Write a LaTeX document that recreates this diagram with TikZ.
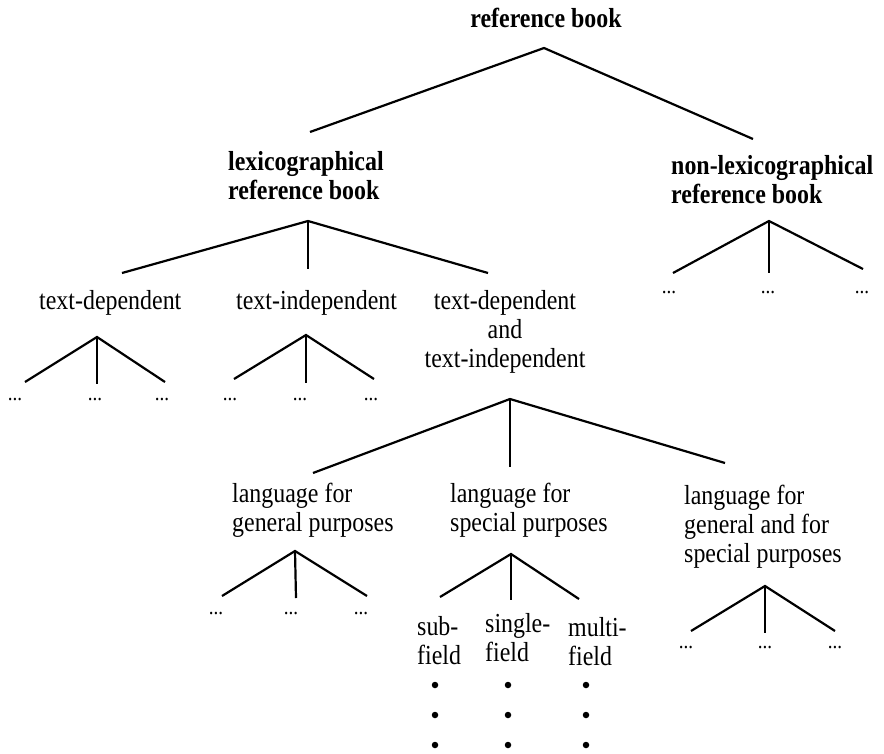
\documentclass[tikz,border=0pt]{standalone}
\usepackage{fontspec}
\setmainfont[FakeStretch=0.87]{Liberation Serif}
\usetikzlibrary{positioning}

\tikzset{
  branch/.style={line width=2.2pt},
  lbl/.style={inner sep=0pt, font=\fontsize{27.5}{29}\selectfont},
  head/.style={lbl, font=\fontsize{27.5}{29}\selectfont\bfseries},
  more/.style={inner sep=0pt, anchor=base, font=\fontsize{22}{24}\selectfont},
  fielddot/.style={circle, fill, inner sep=0pt, minimum size=6.5pt},
}

\begin{document}
\begin{tikzpicture}[x=1pt,y=-1pt]
    \useasboundingbox (0,0) rectangle (884,753);

    % Root
    \node[head, anchor=base] (root) at (546,27) {reference book};
    \coordinate (rootA) at (544,48);
    \coordinate (rootL) at (310,132);
    \coordinate (rootR) at (753,139);
    \draw[branch] (rootL) -- (rootA) -- (rootR);

    % Lexicographical reference book
    \node[head, align=left, anchor=north west] (lex) at (228,151) {lexicographical\\reference book};
    \coordinate (lexA) at (308,221);
    \coordinate (lexL) at (122,273);
    \coordinate (lexM) at (308,269);
    \coordinate (lexR) at (488,273);
    \draw[branch] (lexL) -- (lexA) -- (lexR);
    \draw[branch] (lexA) -- (lexM);

    % Non-lexicographical reference book
    \node[head, align=left, anchor=north west] (nonlex) at (671,155) {non-lexicographical\\reference book};
    \coordinate (nonA) at (769,221);
    \coordinate (nonL) at (673,273);
    \coordinate (nonM) at (769,273);
    \coordinate (nonR) at (863,269);
    \draw[branch] (nonL) -- (nonA) -- (nonR);
    \draw[branch] (nonA) -- (nonM);
    \node[more] (non1) at (669,293) {...};
    \node[more] (non2) at (768,293) {...};
    \node[more] (non3) at (862,293) {...};

    % Text-dependent
    \node[lbl, anchor=base west] (tdep) at (39,309) {text-dependent};
    \coordinate (tdepA) at (97,337);
    \coordinate (tdepL) at (25,382);
    \coordinate (tdepM) at (97,384);
    \coordinate (tdepR) at (165,382);
    \draw[branch] (tdepL) -- (tdepA) -- (tdepR);
    \draw[branch] (tdepA) -- (tdepM);
    \node[more] (tdep1) at (15,400) {...};
    \node[more] (tdep2) at (95,400) {...};
    \node[more] (tdep3) at (162,400) {...};

    % Text-independent
    \node[lbl, anchor=base west] (tind) at (236,309) {text-independent};
    \coordinate (tindA) at (306,335);
    \coordinate (tindL) at (234,379);
    \coordinate (tindM) at (306,383);
    \coordinate (tindR) at (374,379);
    \draw[branch] (tindL) -- (tindA) -- (tindR);
    \draw[branch] (tindA) -- (tindM);
    \node[more] (tind1) at (230,400) {...};
    \node[more] (tind2) at (300,400) {...};
    \node[more] (tind3) at (371,400) {...};

    % Text-dependent and text-independent
    \node[lbl, align=center, anchor=north] (both) at (505,290) {text-dependent\\and\\text-independent};
    \coordinate (bothA) at (510,399);
    \coordinate (bothL) at (313,473);
    \coordinate (bothM) at (510,467);
    \coordinate (bothR) at (725,463);
    \draw[branch] (bothL) -- (bothA) -- (bothR);
    \draw[branch] (bothA) -- (bothM);

    % LGP
    \node[lbl, align=left, anchor=north west] (lgp) at (232,483) {language for\\general purposes};
    \coordinate (lgpA) at (295,551);
    \coordinate (lgpL) at (222,596);
    \coordinate (lgpM) at (296,598);
    \coordinate (lgpR) at (367,596);
    \draw[branch] (lgpL) -- (lgpA) -- (lgpR);
    \draw[branch] (lgpA) -- (lgpM);
    \node[more] (lgp1) at (216,614) {...};
    \node[more] (lgp2) at (291,614) {...};
    \node[more] (lgp3) at (361,614) {...};

    % LSP
    \node[lbl, align=left, anchor=north west] (lsp) at (450,483) {language for\\special purposes};
    \coordinate (lspA) at (511,554);
    \coordinate (lspL) at (440,597);
    \coordinate (lspM) at (511,600);
    \coordinate (lspR) at (579,599);
    \draw[branch] (lspL) -- (lspA) -- (lspR);
    \draw[branch] (lspA) -- (lspM);
    \node[lbl, align=left, anchor=north west] (sub) at (417,616) {sub-\\field};
    \node[lbl, align=left, anchor=north west] (single) at (485,613) {single-\\field};
    \node[lbl, align=left, anchor=north west] (multi) at (568,617) {multi-\\field};
    \node[fielddot] (sub1) at (435,685) {};
    \node[fielddot] (sub2) at (435,715) {};
    \node[fielddot] (sub3) at (435,745) {};
    \node[fielddot] (single1) at (508,685) {};
    \node[fielddot] (single2) at (508,715) {};
    \node[fielddot] (single3) at (508,745) {};
    \node[fielddot] (multi1) at (586,685) {};
    \node[fielddot] (multi2) at (586,715) {};
    \node[fielddot] (multi3) at (586,745) {};

    % LGP and LSP
    \node[lbl, align=left, anchor=north west] (lgsp) at (684,485) {language for\\general and for\\special purposes};
    \coordinate (lgspA) at (765,586);
    \coordinate (lgspL) at (691,631);
    \coordinate (lgspM) at (765,633);
    \coordinate (lgspR) at (835,631);
    \draw[branch] (lgspL) -- (lgspA) -- (lgspR);
    \draw[branch] (lgspA) -- (lgspM);
    \node[more] (lgsp1) at (686,648) {...};
    \node[more] (lgsp2) at (765,648) {...};
    \node[more] (lgsp3) at (835,648) {...};
\end{tikzpicture}
\end{document}
